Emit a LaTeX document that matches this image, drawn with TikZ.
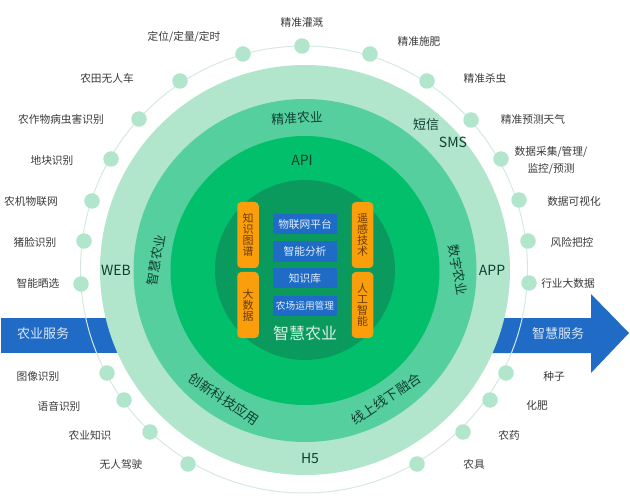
\documentclass[tikz,border=0pt]{standalone}
\usepackage{fontspec}
\setmainfont{Noto Sans CJK SC}
\definecolor{myblue}{HTML}{1F6BC6}
\definecolor{myorange}{HTML}{FB9E0B}
\definecolor{ringa}{HTML}{B1E6CD}
\definecolor{ringb}{HTML}{55CF9E}
\definecolor{ringc}{HTML}{02BF6B}
\definecolor{ringd}{HTML}{0A9A5E}
\definecolor{tracklight}{HTML}{D6E9E0}
\definecolor{textdark}{HTML}{3A3A3A}
\definecolor{textgreen}{HTML}{103F30}
\definecolor{textbrown}{HTML}{6A3B08}
\newcommand{\fs}[1]{\fontsize{#1}{#1}\selectfont}
\tikzset{ringnode/.style = {circle, inner sep=0pt, draw=none}}

\begin{document}
\begin{tikzpicture}[x=1pt,y=-1pt,
  dotnode/.style={circle,fill=ringa,inner sep=0pt,minimum size=15.5pt},
  dotlabel/.style={text=textdark,align=center,inner sep=0pt,font=\fs{10.7},execute at begin node=\setlength{\baselineskip}{17pt}},
  ringlabel/.style={text=textgreen,inner sep=0pt,font=\fs{12.8}},
  weblabel/.style={text=textgreen,inner sep=0pt,font=\fs{14}},
  orangebox/.style={fill=myorange,rounded corners=4pt,inner sep=0pt,minimum width=21.5pt,minimum height=66pt,
    align=center,text=textbrown,font=\fs{11},execute at begin node=\setlength{\baselineskip}{11pt}},
  bluebox/.style={fill=myblue,inner sep=0pt,minimum width=64pt,minimum height=20.5pt,text=white!88!myblue,font=\fs{10.7}},
  arrowlabel/.style={text=white!85!myblue,inner sep=0pt,font=\fs{13}}
  ]
  \useasboundingbox (0,0) rectangle (630,500);
  \fill[white] (0,0) rectangle (630,500);

  % the blue arrows
  \fill[myblue] (1,318) -- (160,318) -- (160,353) -- (1,353) -- cycle;
  \fill[myblue] (450,318) -- (591,318) -- (591,294) -- (629,333) -- (591,373) -- (591,353) -- (450,353) -- cycle;
  \node[arrowlabel] (left) at (43,334) {农业服务};
  \node[arrowlabel] (right) at (558,334) {智慧服务};

  % the track of dots
  \node[ringnode,draw=tracklight,line width=1pt,minimum size=447pt] (track) at (304,269.5) {};
  \foreach \i/\x/\y/\lx/\ly/\txt in {
    1/302/46/302/22/精准灌溉,
    2/370/54/419/41/精准施肥,
    3/427/81/485/78/精准杀虫,
    4/471/120/533/119/精准预测天气,
    5/501/159/551/160/{数据采集/管理/\\监控/预测},
    6/519/200/574/201/数据可视化,
    7/528/241/572/242/风险把控,
    8/529/283/568/283/行业大数据,
    9/506/373/554/376/种子,
    10/490/400/537/405/化肥,
    11/463/432/509/435/农药,
    12/417/464/474/464/农具,
    13/188/464/121/464/无人驾驶,
    14/150/432/90/435/农业知识,
    15/124/400/59/406/语音识别,
    16/107/373/38/376/图像识别,
    17/81/284/38/283/智能晒选,
    18/84/241/35/242/猪脸识别,
    19/92/201/31/201/农机物联网,
    20/111/159/52/160/地块识别,
    21/139/119/61/119/农作物病虫害识别,
    22/180/81/107/78/农田无人车,
    23/243/54/184/37/{定位/定量/定时}}
  {
    \node[dotnode] (d\i) at (\x,\y) {};
    \node[dotlabel] (l\i) at (\lx,\ly) {\txt};
  }

  % the rings
  \node[ringnode,fill=ringa,minimum size=410pt] (ringA) at (305,270) {};
  \node[ringnode,fill=ringb,minimum size=343pt] (ringB) at (305,270.5) {};
  \node[ringnode,fill=ringc,minimum size=269pt] (ringC) at (305,270.5) {};
  \node[ringnode,fill=ringd,minimum size=180pt] (ringD) at (305,270) {};

  % the texts on the rings
  \node[ringlabel,rotate=3] (jingzhun) at (297,118) {精准农业};
  \node[ringlabel,rotate=80] (zhihui) at (156,260) {智慧农业};
  \node[ringlabel,rotate=-80] (shuzi) at (458,270) {数字农业};
  \node[ringlabel,rotate=-34,font=\fs{13.5}] (chuangxin) at (224,399) {创新科技应用};
  \node[ringlabel,rotate=34,font=\fs{13.5}] (xianshang) at (386,399) {线上线下融合};
  \node[weblabel] (api) at (302,160) {API};
  \node[weblabel] (web) at (116,270) {WEB};
  \node[weblabel] (app) at (492,270) {APP};
  \node[weblabel] (h5) at (310,458) {H5};
  \node[weblabel,font=\fs{13}] (duanxin) at (426,125) {短信};
  \node[weblabel] (sms) at (453,142) {SMS};

  % the orange boxes
  \node[orangebox] (tupu) at (248,235) {知\\识\\图\\谱};
  \node[orangebox] (dashuju) at (248,305) {大\\数\\据};
  \node[orangebox] (yaogan) at (362.5,235) {遥\\感\\技\\术};
  \node[orangebox] (rengong) at (362.5,305) {人\\工\\智\\能};

  % the blue boxes
  \node[bluebox] (wulian) at (305,224) {物联网平台};
  \node[bluebox] (fenxi) at (305,251.5) {智能分析};
  \node[bluebox] (zhishi) at (305,278) {知识库};
  \node[bluebox,font=\fs{9.7}] (nongchang) at (305,306) {农场运用管理};
  \node[text=white!85!ringd,inner sep=0pt,font=\fs{16}] (title) at (305,333) {智慧农业};
\end{tikzpicture}
\end{document}
